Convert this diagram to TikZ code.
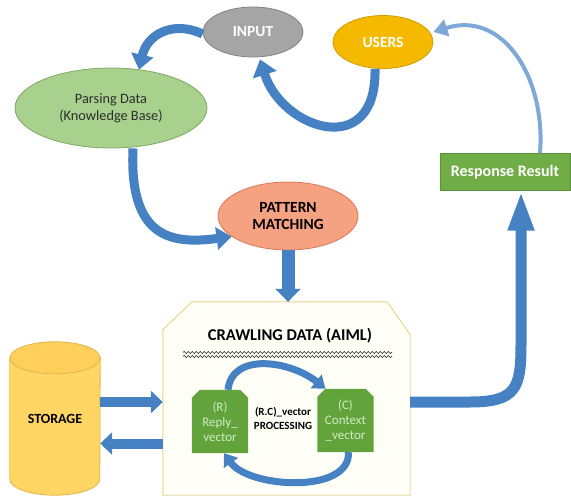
\documentclass[tikz,border=0pt]{standalone}
\usepackage{fontspec}
\setmainfont{Carlito}
\usetikzlibrary{arrows.meta,decorations.pathmorphing,shapes.geometric,backgrounds}
\definecolor{bblue}{RGB}{70,130,195}
\definecolor{lblue}{RGB}{125,168,215}
\definecolor{inputgray}{RGB}{165,165,165}
\definecolor{usersgold}{RGB}{245,185,0}
\definecolor{parsegreen}{RGB}{169,209,142}
\definecolor{parseborder}{RGB}{125,170,95}
\definecolor{patfill}{RGB}{244,162,130}
\definecolor{patborder}{RGB}{222,120,90}
\definecolor{respgreen}{RGB}{112,173,71}
\definecolor{respborder}{RGB}{90,145,55}
\definecolor{vecgreen}{RGB}{98,163,60}
\definecolor{vectext}{RGB}{210,235,195}
\definecolor{storfill}{RGB}{255,214,100}
\definecolor{storborder}{RGB}{228,180,70}
\definecolor{crawlfill}{RGB}{255,255,248}
\definecolor{crawlborder}{RGB}{228,215,140}
\definecolor{darktext}{RGB}{45,45,45}
\tikzset{
  ell/.style={ellipse, draw=#1, line width=0.8pt},
  bigtxt/.style={font=\fontsize{14.3}{17}\selectfont},
  boldtxt/.style={font=\bfseries\fontsize{15.5}{17.5}\selectfont},
  blk/.style={draw=bblue, line width=#1},
  vecbox/.style={minimum width=56pt, minimum height=63pt, align=center, text=vectext,
    font=\fontsize{13}{15}\selectfont, inner sep=0pt},
}
\begin{document}
\begin{tikzpicture}[x=1pt,y=-1pt]
\useasboundingbox (0,0) rectangle (571,498);

% ---------- nodes ----------
\node[ell=inputgray!80!black, fill=inputgray, minimum width=100pt, minimum height=50pt,
      text=white, boldtxt] (input) at (253,32) {INPUT};
\node[ell=usersgold!85!black, fill=usersgold, minimum width=100pt, minimum height=53pt,
      text=white, boldtxt] (users) at (383,42) {USERS};
\node[ell=parseborder, fill=parsegreen, minimum width=192pt, minimum height=80pt,
      text=darktext, bigtxt, align=center] (parse) at (111,108) {Parsing Data\\(Knowledge Base)};
\node[ell=patborder, fill=patfill, minimum width=140pt, minimum height=68pt,
      text=black, boldtxt, align=center] (pat) at (288,216) {PATTERN\\MATCHING};
\node[rectangle, draw=respborder, fill=respgreen, minimum width=130pt, minimum height=37pt,
      text=white, font=\bfseries\fontsize{16}{18}\selectfont] (resp) at (505,172) {Response Result};

\node[rectangle, minimum width=247pt, minimum height=193pt, inner sep=0pt] (crawl) at (286.5,398.5) {};
\node[font=\bfseries\fontsize{16.5}{19}\selectfont, text=black] (title) at (290,336) {CRAWLING DATA (AIML)};
\node[vecbox] (reply) at (220,421.5) {(R)\\Reply\_\\vector};
\node[vecbox] (ctx) at (345.5,420.5) {(C)\\Context\\\_vector};
\node[font=\bfseries\fontsize{11}{14}\selectfont, align=center, text=black] (proc) at (283,418) {(R.C)\_vector\\PROCESSING};

\node[rectangle, minimum width=90pt, minimum height=153pt, inner sep=0pt,
      font=\bfseries\fontsize{14}{16}\selectfont, text=black] (stor) at (55,418.5) {STORAGE};

% ---------- background shapes ----------
\begin{pgfonlayer}{background}
  \fill[white] (0,0) rectangle (571,498);
  \filldraw[fill=crawlfill, draw=crawlborder, line width=0.9pt]
    ([xshift=29pt]crawl.north west) -- ([xshift=-23pt]crawl.north east)
    -- ([yshift=-33pt]crawl.north east) -- (crawl.south east)
    -- (crawl.south west) -- ([yshift=-28pt]crawl.north west) -- cycle;
  \foreach \n in {reply,ctx}{
    \fill[vecgreen] ([xshift=8pt]\n.north west) -- ([xshift=-8pt]\n.north east)
      -- ([yshift=-8pt]\n.north east) -- (\n.south east) -- (\n.south west)
      -- ([yshift=-8pt]\n.north west) -- cycle;
  }
  % cylinder
  \filldraw[fill=storfill, draw=storborder, line width=0.8pt]
    ([yshift=-16pt]stor.north west) -- ([yshift=16pt]stor.south west)
    arc[start angle=180, end angle=0, x radius=45, y radius=16]
    -- ([yshift=-16pt]stor.north east) -- cycle;
  \filldraw[fill=storfill!92!orange, draw=storborder, line width=0.8pt]
    ([yshift=-16pt]stor.north) ellipse [x radius=45, y radius=16];
\end{pgfonlayer}

% wavy underline
\draw[darktext, line width=0.6pt, decorate, decoration={snake, segment length=4pt, amplitude=1.1pt}]
  (183,352.5) -- (392,352.5);
\draw[darktext, line width=0.6pt, decorate, decoration={snake, segment length=4pt, amplitude=1.1pt}]
  (183,356.5) -- (392,356.5);

% ---------- connectors ----------
% INPUT -> Parsing
\draw[blk=9pt, -{Triangle[width=22pt,length=15pt]}]
  ([yshift=-2pt]input.west) .. controls +(-30,-14) and +(8,-35) .. ([xshift=28pt,yshift=-2pt]parse.north);
% Parsing -> Pattern
\draw[blk=9pt, -{Triangle[width=22pt,length=15pt]}]
  ([xshift=22pt]parse.south) .. controls +(-4,90) and +(-60,8) .. (pat.200);
% Pattern -> Crawl
\draw[blk=13pt, -{Triangle[width=25pt,length=13pt]}]
  (pat.south) -- (pat.south |- crawl.north);
% Storage <-> Crawl
\draw[blk=10pt, -{Triangle[width=22pt,length=12pt]}]
  ([yshift=16.5pt]stor.east) -- ([yshift=16.5pt]stor.east -| crawl.west);
\draw[blk=10pt, -{Triangle[width=22pt,length=12pt]}]
  ([yshift=-25pt]stor.east -| crawl.west) -- ([yshift=-25pt]stor.east);
% Crawl -> Response
\draw[blk=11pt, -{Triangle[width=24pt,length=40pt]}]
  ([yshift=-3.5pt]crawl.east) -- (470,402) .. controls (516,402) and (521,388) .. (521,345)
  -- ([xshift=16pt]resp.south);
% Response -> Users
\draw[draw=lblue, line width=4pt, -{Triangle[width=17pt,length=14pt]}]
  ([xshift=35pt]resp.north) .. controls +(6,-75) and +(70,-22) .. ([yshift=10pt]users.east);
% Users -> Input
\draw[blk=9pt, -{Triangle[width=24pt,length=16pt]}]
  ([xshift=-8pt]users.south) .. controls +(2,92) and +(22,70) .. ([xshift=7pt,yshift=-2pt]input.south);
% inner cycle
\draw[blk=7pt, -{Triangle[width=17pt,length=12pt]}]
  ([xshift=8pt]reply.north) .. controls +(4,-38) and +(-35,-28) .. ([xshift=-20pt]ctx.north);
\draw[blk=7pt, -{Triangle[width=17pt,length=12pt]}]
  ([xshift=3pt]ctx.south) .. controls +(2,42) and +(25,35) .. ([xshift=4pt]reply.south);
\end{tikzpicture}
\end{document}
